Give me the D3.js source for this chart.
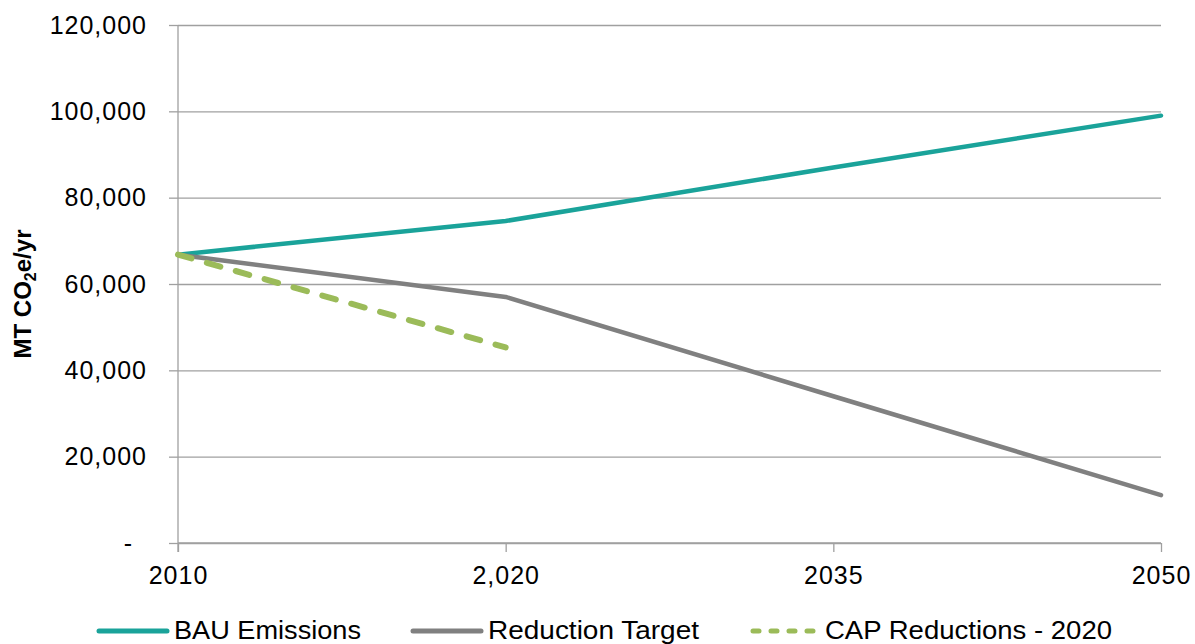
<!DOCTYPE html>
<html>
<head>
<meta charset="utf-8">
<script src="https://cdn.jsdelivr.net/npm/d3@7"></script>
<style>
  html, body { margin: 0; padding: 0; background: #fff; }
  svg { display: block; font-family: "Liberation Sans", Arial, sans-serif; }
</style>
</head>
<body>
<svg id="chart" width="1195" height="644"></svg>
<script>
// Emission scenarios, metric tons CO2e per year
const years = ["2010", "2,020", "2035", "2050"];
const bauEmissions = [66800, 74600, 87000, 99000];
const reductionTarget = [66800, 57000, 34000, 11100];
const capReductions = [66800, 45300];
const yTicks = [0, 20000, 40000, 60000, 80000, 100000, 120000];

const series = [
  { name: "BAU Emissions", values: bauEmissions, color: "#1aa39a", dash: null },
  { name: "Reduction Target", values: reductionTarget, color: "#808080", dash: null },
  { name: "CAP Reductions - 2020", values: capReductions, color: "#9bbb59", dash: "14,16" }
];

const svg = d3.select("#chart");
const margin = { left: 178, right: 34, top: 25, bottom: 101 };
const W = 1195, H = 644;
const gridColor = "#a0a0a0";

const x = d3.scalePoint().domain(years).range([margin.left, W - margin.right]);
const y = d3.scaleLinear().domain([0, 120000]).range([H - margin.bottom, margin.top]);

const fmt = v => v === 0 ? "-" : d3.format(",")(v);

// Horizontal gridlines and y axis labels
const yAxis = d3.axisLeft(y).tickValues(yTicks).tickFormat(fmt)
  .tickSize(-(W - margin.right - margin.left)).tickPadding(31);
const gy = svg.append("g").attr("transform", `translate(${margin.left},0)`).call(yAxis);
gy.select(".domain").remove();
gy.selectAll(".tick line").attr("stroke", gridColor).attr("stroke-width", 1.3);
gy.selectAll(".tick text").attr("fill", "#000")
  .style("font-size", "25px").style("letter-spacing", "1px")
  .attr("dx", d => d === 0 ? -14 : 0);
// short outward ticks on the left
gy.selectAll(".tick").append("line")
  .attr("x1", -9).attr("x2", 0).attr("stroke", gridColor).attr("stroke-width", 1.3);

// Vertical axis line at the first category
svg.append("line")
  .attr("x1", margin.left).attr("x2", margin.left)
  .attr("y1", margin.top).attr("y2", y(0) + 9)
  .attr("stroke", gridColor).attr("stroke-width", 1.3);

// x axis
const xAxis = d3.axisBottom(x).tickSize(9).tickPadding(14);
const gx = svg.append("g").attr("transform", `translate(0,${y(0)})`).call(xAxis);
gx.select(".domain").attr("stroke", gridColor).attr("stroke-width", 1.3)
  .attr("d", `M${margin.left},0H${W - margin.right}`);
gx.selectAll(".tick line").attr("stroke", gridColor).attr("stroke-width", 1.3);
gx.selectAll(".tick text").attr("fill", "#000")
  .style("font-size", "25px").style("letter-spacing", "1px");

// y axis title
const title = svg.append("text")
  .attr("transform", `translate(31,${(margin.top + y(0)) / 2 + 10}) rotate(-90)`)
  .attr("text-anchor", "middle")
  .style("font-size", "24px").style("font-weight", "bold");
title.append("tspan").text("MT CO");
title.append("tspan").text("2").attr("dy", 5).style("font-size", "16px");
title.append("tspan").text("e/yr").attr("dy", -5);

// series lines
const line = d3.line().x((d, i) => x(years[i])).y(d => y(d));
series.forEach(s => {
  svg.append("path")
    .datum(s.values)
    .attr("d", line)
    .attr("fill", "none")
    .attr("stroke", s.color)
    .attr("stroke-width", s.dash ? 6 : 4.5)
    .attr("stroke-linecap", "round")
    .attr("stroke-linejoin", "round")
    .attr("stroke-dasharray", s.dash);
});

// legend
const legendX = [99, 413, 750];
const legend = svg.append("g").attr("transform", `translate(0,631)`);
series.forEach((s, i) => {
  const g = legend.append("g").attr("transform", `translate(${legendX[i]},0)`);
  g.append("line")
    .attr("x1", s.dash ? 3 : 0).attr("x2", s.dash ? 66 : 68).attr("y1", 0).attr("y2", 0)
    .attr("stroke", s.color).attr("stroke-width", 5)
    .attr("stroke-dasharray", s.dash ? "6,12" : null)
    .attr("stroke-linecap", "round");
  g.append("text")
    .attr("x", 75).attr("y", 8)
    .style("font-size", "25px")
    .attr("textLength", [187, 211, 287][i])
    .attr("lengthAdjust", "spacingAndGlyphs")
    .text(s.name);
});
</script>
</body>
</html>
